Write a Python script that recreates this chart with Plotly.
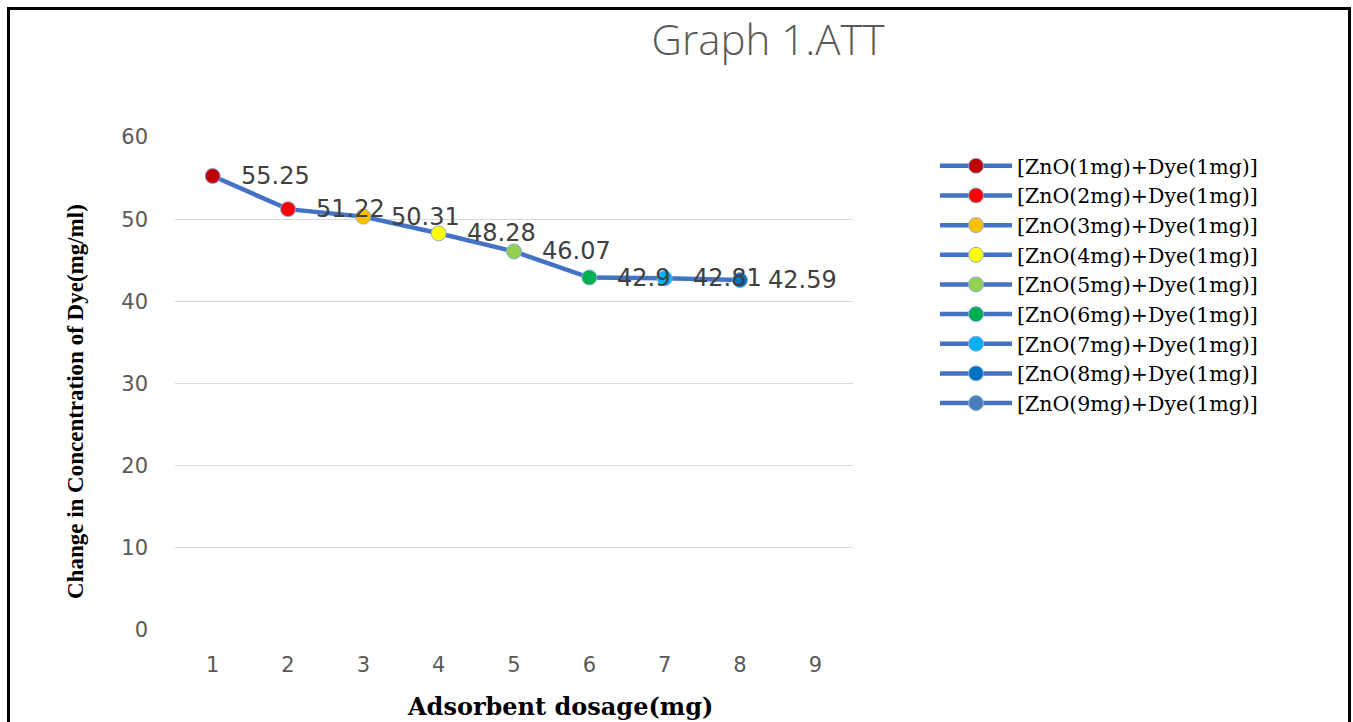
import plotly.graph_objects as go

categories = [1, 2, 3, 4, 5, 6, 7, 8, 9]
values = [55.25, 51.22, 50.31, 48.28, 46.07, 42.9, 42.81, 42.59, None]
label_texts = ["55.25", "51.22", "50.31", "48.28", "46.07", "42.9", "42.81", "42.59", None]
series_names = ["[ZnO(%dmg)+Dye(1mg)]" % i for i in range(1, 10)]
marker_colors = ["#C00000", "#FF0000", "#FFC000", "#FFFF00", "#92D050",
                 "#00B050", "#00B0F0", "#0070C0", "#4A7EBB"]
y_ticks = [0, 10, 20, 30, 40, 50, 60]

LINE_COLOR = "#4472C4"
W, H = 1353, 722
L, R, T, B = 175, 853, 137, 630

def px_x(px):
    return (px - L) / (R - L)

def px_y(py):
    return (B - py) / (B - T)

fig = go.Figure()

fig.add_trace(go.Scatter(
    x=[c for c, v in zip(categories, values) if v is not None],
    y=[v for v in values if v is not None],
    mode="lines", line=dict(color=LINE_COLOR, width=4.5),
    showlegend=False, hoverinfo="skip"))

for c, v, name, col in zip(categories, values, series_names, marker_colors):
    fig.add_trace(go.Scatter(
        x=[c], y=[v], name=name, mode="lines+markers",
        line=dict(color=LINE_COLOR, width=4.5),
        marker=dict(color=col, size=15, line=dict(color="#8FAADC", width=1))))

annotations = []
for c, v, t in zip(categories, values, label_texts):
    if v is None:
        continue
    annotations.append(dict(x=c, y=v, xref="x", yref="y", text=t, showarrow=False,
                            xanchor="left", yanchor="middle", xshift=26,
                            font=dict(family="DejaVu Sans", size=24, color="#404040")))

annotations.append(dict(x=px_x(75), y=px_y(402), xref="paper", yref="paper",
                        text="<b>Change in Concentration of Dye(mg/ml)</b>", textangle=-90,
                        showarrow=False, xanchor="center", yanchor="middle",
                        font=dict(family="Liberation Serif", size=23, color="#000000")))
annotations.append(dict(x=px_x(560), y=px_y(706), xref="paper", yref="paper",
                        text="<b>Adsorbent dosage(mg)</b>",
                        showarrow=False, xanchor="center", yanchor="middle",
                        font=dict(family="DejaVu Serif", size=24, color="#000000")))

shapes = [dict(type="rect", xref="paper", yref="paper",
               x0=px_x(8.5), x1=px_x(1349.5), y0=px_y(760), y1=px_y(8.5),
               line=dict(color="#000000", width=3), fillcolor="rgba(0,0,0,0)", layer="below")]

fig.update_layout(
    width=W, height=H,
    margin=dict(l=L, r=W - R, t=T, b=H - B, pad=0),
    paper_bgcolor="#FFFFFF", plot_bgcolor="#FFFFFF",
    title=dict(text="Graph 1.ATT", x=768 / W, xanchor="center", y=1 - 40 / H, yanchor="middle",
               font=dict(family="Open Sans", size=42, color="#595959", weight=300)),
    xaxis=dict(range=[0.5, 9.5], tickvals=categories, ticktext=[str(c) for c in categories],
               showgrid=False, zeroline=False, showline=False, ticks="",
               ticklabelstandoff=20,
               tickfont=dict(family="DejaVu Sans", size=21, color="#595959")),
    yaxis=dict(range=[0, 60], tickvals=y_ticks, showgrid=True, gridcolor="#D9D9D9", gridwidth=1,
               zeroline=False, showline=False, ticks="", ticklabelstandoff=26,
               tickfont=dict(family="DejaVu Sans", size=21, color="#595959")),
    legend=dict(x=px_x(935), y=px_y(146), xanchor="left", yanchor="top",
                font=dict(family="DejaVu Serif", size=20.5, color="#000000"),
                itemwidth=72, bgcolor="rgba(0,0,0,0)", tracegroupgap=0),
    annotations=annotations, shapes=shapes,
    showlegend=True,
)

fig.write_html("out.html")
